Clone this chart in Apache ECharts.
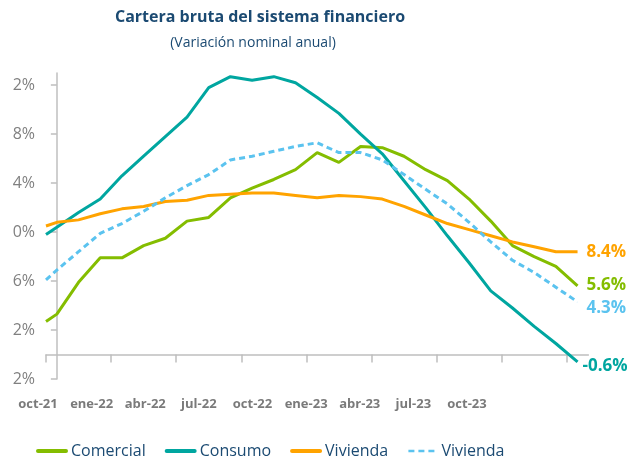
<!DOCTYPE html>
<html>
<head>
<meta charset="utf-8">
<script src="https://cdn.jsdelivr.net/npm/echarts@6/dist/echarts.min.js"></script>
<style>
    html, body { margin: 0; padding: 0; background: #fff; }
    #chart { width: 633px; height: 462px; }
</style>
</head>
<body>
<div id="chart"></div>
<script>
// posicion de cada dato (meses desde oct-21, el primero es medio mes antes)
var monthIdx = [-0.5, 0, 1, 2, 3, 4, 5, 6, 7, 8, 9, 10, 11, 12, 13, 14, 15, 16, 17, 18, 19, 20, 21, 22, 23, 24];
var monthLabels = ['oct-21', 'ene-22', 'abr-22', 'jul-22', 'oct-22', 'ene-23', 'abr-23', 'jul-23', 'oct-23'];
var xTickIdx = [-0.5, 2.5, 5.5, 8.5, 11.5, 14.5, 17.5, 20.5, 23.5];

// eje y tal como aparece en la imagen
var yTickValues = [-2, 2, 6, 10, 14, 18, 22];
var yTickLabels = ['2%', '2%', '6%', '0%', '4%', '8%', '2%'];

var comercial = [2.7, 3.3, 5.9, 7.9, 7.9, 8.9, 9.5, 10.9, 11.2, 12.8, 13.6, 14.3, 15.1, 16.5, 15.7, 17.0, 16.9, 16.2, 15.1, 14.2, 12.7, 10.9, 8.9, 8.0, 7.2, 5.6];
var consumo = [9.8, 10.4, 11.6, 12.7, 14.6, 16.2, 17.8, 19.4, 21.8, 22.7, 22.4, 22.7, 22.2, 21.0, 19.7, 18.0, 16.4, 14.2, 12.0, 9.7, 7.5, 5.2, 3.8, 2.3, 0.9, -0.6];
var vivienda = [10.5, 10.8, 11.0, 11.5, 11.9, 12.1, 12.5, 12.6, 13.0, 13.1, 13.2, 13.2, 13.0, 12.8, 13.0, 12.9, 12.7, 12.1, 11.4, 10.7, 10.2, 9.7, 9.2, 8.8, 8.4, 8.4];
var viviendaB = [6.1, 6.9, 8.4, 9.9, 10.7, 11.7, 12.8, 13.8, 14.7, 15.9, 16.2, 16.6, 17.0, 17.3, 16.5, 16.5, 15.9, 14.7, 13.5, 12.3, 10.8, 9.2, 7.7, 6.7, 5.5, 4.3];

var seriesKeys = ['comercial', 'consumo', 'vivienda', 'viviendaB'];
var legendNames = ['Comercial', 'Consumo', 'Vivienda', 'Vivienda'];

var font = 'Open Sans';
var navy = '#1b4a72';
var gris = '#bfbfbf';

function pares(vals) {
    return vals.map(function (v, i) { return [monthIdx[i], v]; });
}

function linea(key, vals, color, dash, offset) {
    return {
        name: key,
        type: 'line',
        xAxisIndex: 0,
        yAxisIndex: 0,
        data: pares(vals),
        symbol: 'none',
        lineStyle: { color: color, width: 3, type: dash || 'solid' },
        itemStyle: { color: color },
        endLabel: {
            show: true,
            distance: 9,
            offset: offset,
            color: color,
            fontFamily: font,
            fontWeight: 'bold',
            fontSize: 17,
            formatter: function (p) { return p.value[1].toFixed(1) + '%'; }
        }
    };
}

var myChart = echarts.init(document.getElementById('chart'));

var option = {
    animation: false,
    title: [
        { text: 'Cartera bruta del sistema financiero', left: 260, top: 9, padding: 0, textAlign: 'center',
          textStyle: { fontFamily: font, fontWeight: 'bold', fontSize: 16, color: navy } },
        { text: '(Variación nominal anual)', left: 253, top: 36, padding: 0, textAlign: 'center',
          textStyle: { fontFamily: font, fontWeight: 'normal', fontSize: 14, color: navy } }
    ],
    legend: {
        left: 31,
        top: 438,
        itemWidth: 28,
        itemHeight: 14,
        itemGap: 19,
        itemStyle: { opacity: 0 },
        textStyle: { fontFamily: font, fontSize: 16, color: navy },
        formatter: function (name) { return legendNames[seriesKeys.indexOf(name)]; },
        data: [
            { name: 'comercial', lineStyle: { width: 4, cap: 'round' } },
            { name: 'consumo', lineStyle: { width: 4, cap: 'round' } },
            { name: 'vivienda', lineStyle: { width: 4, cap: 'round' } },
            { name: 'viviendaB', lineStyle: { width: 2.5 } }
        ]
    },
    grid: [
        { left: 46, right: 44.6, top: 73, bottom: 83, outerBoundsMode: 'none' },
        { left: 38, right: 166, top: 380, height: 10, outerBoundsMode: 'none' }
    ],
    xAxis: [
        {
            type: 'value',
            gridIndex: 0,
            min: -0.5,
            max: 24.5,
            axisLine: { onZero: true, lineStyle: { color: gris, width: 1.5 } },
            axisTick: { show: true, length: 8, customValues: xTickIdx, lineStyle: { color: gris, width: 1.5 } },
            axisLabel: { show: false },
            splitLine: { show: false }
        },
        {
            type: 'category',
            gridIndex: 1,
            boundaryGap: false,
            data: monthLabels,
            axisLine: { show: false },
            axisTick: { show: false },
            axisLabel: { interval: 0, margin: 8, fontFamily: font, fontWeight: 'bold', fontSize: 13, color: '#7a7a7a' },
            splitLine: { show: false }
        }
    ],
    yAxis: [
        {
            type: 'value',
            gridIndex: 0,
            min: -2,
            max: 23,
            axisLine: { show: true, lineStyle: { color: gris, width: 1.5 } },
            axisTick: { show: true, length: 6, customValues: yTickValues, lineStyle: { color: gris, width: 1.5 } },
            axisLabel: {
                margin: 11,
                customValues: yTickValues,
                fontFamily: font,
                fontSize: 16,
                color: '#808080',
                formatter: function (v) {
                    var i = yTickValues.indexOf(v);
                    return i < 0 ? '' : yTickLabels[i];
                }
            },
            splitLine: { show: false }
        },
        { type: 'value', gridIndex: 1, show: false }
    ],
    series: [
        linea('comercial', comercial, '#84bd00', 'solid', [0, -1]),
        linea('consumo', consumo, '#00a6a0', 'solid', [-4, 4]),
        linea('vivienda', vivienda, '#ffa300', 'solid', [0, 0]),
        linea('viviendaB', viviendaB, '#5bc3ef', [6, 4], [0, 6])
    ]
};

myChart.setOption(option);
</script>
</body>
</html>
